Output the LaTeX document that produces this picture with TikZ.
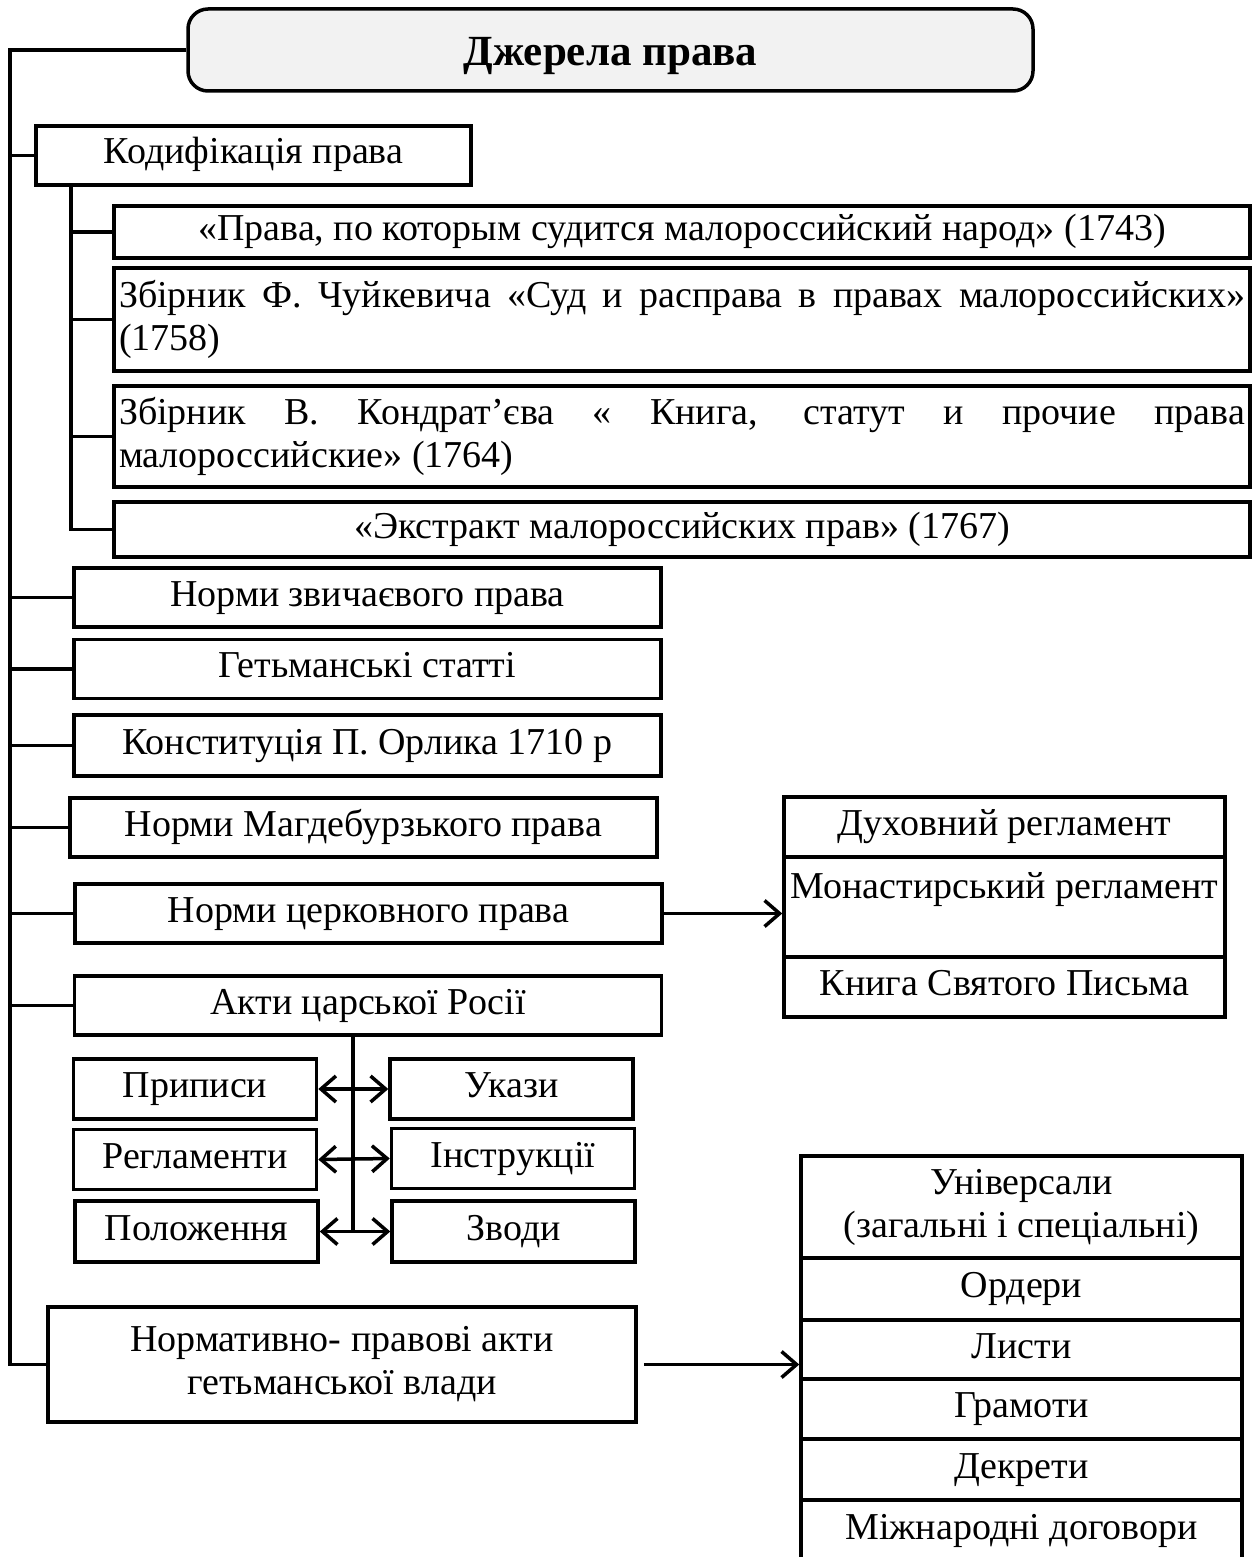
\documentclass[tikz,border=0pt]{standalone}
\usepackage{fontspec}
\setmainfont{Liberation Serif}
\usepackage{xcolor}
\usetikzlibrary{arrows.meta,positioning}
\definecolor{ink}{HTML}{000000}
\definecolor{titlebg}{HTML}{F2F2F2}
\newcommand{\bodyfont}{\fontsize{38}{43}\selectfont\hyphenpenalty=10000 }
\newcommand{\headfont}{\fontsize{43}{48}\selectfont\bfseries}
\tikzset{
  card/.style={draw=ink,line width=3.5pt,align=center,inner sep=2pt,
               font=\bodyfont},
  oneline/.style={text height=26pt,text depth=9pt},
  longcard/.style={card,minimum width=1136pt,text width=1126pt,
                   align=justify},
  midcard/.style={card,oneline,minimum width=587pt,minimum height=59pt},
  smallcard/.style={card,oneline,minimum width=243pt,minimum height=60pt},
  listcard/.style={card,minimum width=441pt},
  headcard/.style={card,fill=titlebg,rounded corners=20pt,font=\headfont,
                   text height=36pt,text depth=4pt},
  wline/.style={line width=3.5pt,draw=ink},
  barb/.style={wline,-{Straight Barb[length=15pt,width=26pt]}},
  dbarb/.style={wline,{Straight Barb[length=15pt,width=26pt]}-{Straight Barb[length=15pt,width=26pt]}}
}

\begin{document}
\begin{tikzpicture}[x=1pt,y=-1pt]
    \path[use as bounding box] (0,0) rectangle (1259,1557);

    % title and the trunk
    \node[headcard,minimum width=845pt,minimum height=82pt] (title)
      at (610.5,50) {Джерела права};
    \coordinate (trunk) at (10,0);
    \coordinate (subtrunk) at (71,0);
    \coordinate (spine) at (353,0);

    % codification
    \node[card,oneline,minimum width=435pt,minimum height=59pt] (kod)
      at (253.5,155.5) {Кодифікація права};
    \node[card,oneline,minimum width=1136pt,minimum height=52pt] (k1)
      at (682,232) {«Права, по которым судится малороссийский народ» (1743)};
    \node[longcard,minimum height=103pt] (k2) at (682,319.5)
      {Збірник Ф. Чуйкевича «Суд и расправа в правах малороссийских»\linebreak (1758)};
    \node[longcard,minimum height=101pt] (k3) at (682,436.5)
      {Збірник В. Кондрат’єва « Книга, статут и прочие права\linebreak малороссийские» (1764)};
    \node[card,oneline,minimum width=1136pt,minimum height=55pt] (k4)
      at (682,529.5) {«Экстракт малороссийских прав» (1767)};

    \node[midcard] (zv) at (367.5,597.5) {Норми звичаєвого права};
    \node[midcard] (het) at (367.5,669) {Гетьманські статті};
    \node[midcard,minimum height=61pt] (orl) at (367.5,745.5)
      {Конституція П. Орлика 1710 р};
    \node[midcard] (mag) at (363.5,827.5) {Норми Магдебурзького права};
    \node[midcard] (cerk) at (368.5,913.5) {Норми церковного права};
    \node[midcard] (akty) at (368,1005.5) {Акти царської Росії};

    % acts of tsarist Russia
    \node[smallcard] (pryp) at (195,1089) {Приписи};
    \node[smallcard] (ukaz) at (511.5,1089) {Укази};
    \node[smallcard] (regl) at (195,1159.5) {Регламенти};
    \node[smallcard] (instr) at (513,1158.5) {Інструкції};
    \node[smallcard,minimum height=61pt] (polozh) at (196.5,1231.5) {Положення};
    \node[smallcard,minimum height=61pt] (zvody) at (513.5,1231.5) {Зводи};

    \node[card,minimum width=588pt,minimum height=115pt] (norm) at (342,1364.5)
      {Нормативно- правові акти\\гетьманської влади};

    % church law list
    \node[listcard,oneline,minimum height=60pt] (duh) at (1004.5,827)
      {Духовний регламент};
    \node[listcard,minimum height=100pt] (mon) at (1004.5,907)
      {Монастирський регламент\\~};
    \node[listcard,oneline,minimum height=60pt] (knyha) at (1004.5,987)
      {Книга Святого Письма};

    % hetman acts list
    \node[listcard,minimum height=102pt] (univ) at (1021.5,1207)
      {Універсали\\(загальні і спеціальні)};
    \node[listcard,oneline,minimum height=62pt] (ord) at (1021.5,1289) {Ордери};
    \node[listcard,oneline,minimum height=59pt] (lyst) at (1021.5,1349.5) {Листи};
    \node[listcard,oneline,minimum height=60pt] (hram) at (1021.5,1409) {Грамоти};
    \node[listcard,oneline,minimum height=61pt] (dekr) at (1021.5,1469.5) {Декрети};
    \node[listcard,oneline,minimum height=62pt] (mizh) at (1021.5,1531)
      {Міжнародні договори};

    % connectors
    \draw[wline] (title.west) -- (title.west -| trunk) -- (norm.west -| trunk)
      -- (norm.west);
    \foreach \n in {kod,zv,het,orl,mag,cerk,akty}
      \draw[wline] (\n.west -| trunk) -- (\n.west);
    \draw[wline] (kod.south -| subtrunk) -- (k4.west -| subtrunk) -- (k4.west);
    \foreach \n in {k1,k2,k3}
      \draw[wline] (\n.west -| subtrunk) -- (\n.west);

    \draw[wline] (akty.south -| spine) -- (polozh.east -| spine);
    \draw[dbarb] (pryp.east) -- (ukaz.west);
    \draw[dbarb] (regl.east) -- (instr.west);
    \draw[dbarb] (polozh.east) -- (zvody.west);

    \draw[barb] (cerk.east) -- (cerk.east -| mon.west);
    \draw[barb,shorten <=6pt] (norm.east) -- (norm.east -| lyst.west);
  \end{tikzpicture}
\end{document}
